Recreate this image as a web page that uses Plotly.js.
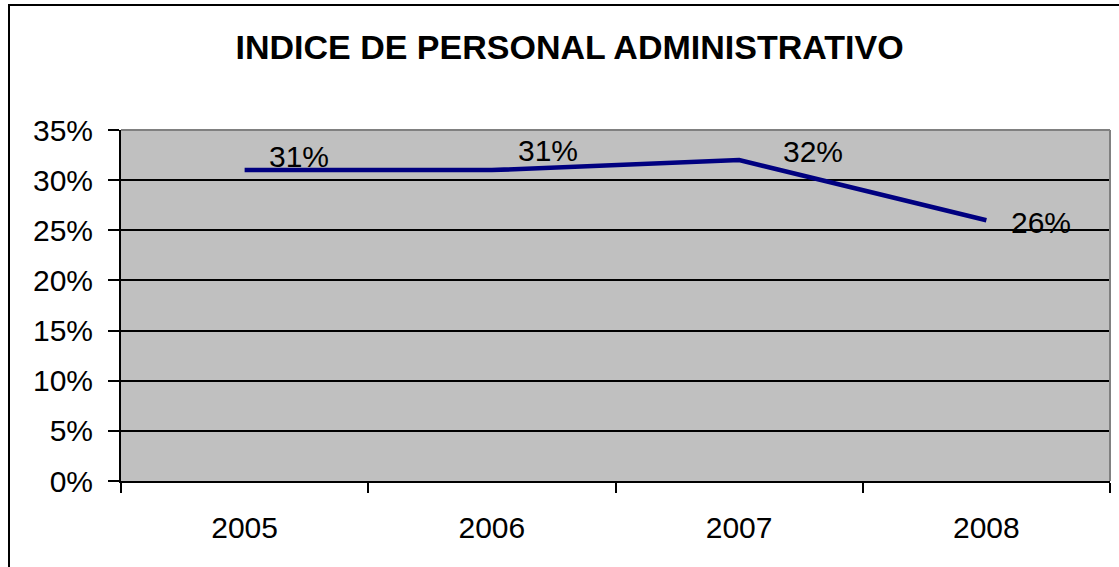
<!DOCTYPE html>
<html>
<head>
<meta charset="utf-8">
<script src="https://cdn.plot.ly/plotly-3.0.1.min.js"></script>
<style>
  html, body { margin: 0; padding: 0; width: 1119px; height: 567px; overflow: hidden; background: #fff; }
  #chart { position: absolute; left: 0; top: 0; width: 1119px; height: 567px; }
  #frame { position: absolute; left: 8px; top: 4px; width: 2000px; height: 2000px; border: 2px solid #000; pointer-events: none; }
</style>
</head>
<body>
<div id="chart"></div>
<div id="frame"></div>
<script>
// Data
const years = ['2005', '2006', '2007', '2008'];
const indice = [0.31, 0.31, 0.32, 0.26];
const titleText = 'INDICE DE PERSONAL ADMINISTRATIVO';

// Label offsets (pixels) – styling only
const labelDx = [22, 24, 42, 23];
const labelDy = [14, 20, 9, -2];

const FONT = 'Liberation Sans, Arial, sans-serif';

const trace = {
  type: 'scatter',
  mode: 'lines',
  x: years,
  y: indice,
  line: { color: '#000080', width: 4.5 },
  hoverinfo: 'skip'
};

const annotations = years.map((yr, i) => ({
  x: i,
  y: indice[i],
  xref: 'x',
  yref: 'y',
  text: Math.round(indice[i] * 100) + '%',
  showarrow: false,
  xanchor: 'left',
  yanchor: 'middle',
  xshift: labelDx[i],
  yshift: labelDy[i],
  font: { family: FONT, size: 30, color: '#000000' }
}));

const layout = {
  width: 1119,
  height: 567,
  margin: { l: 121, r: 9, t: 130, b: 86, pad: 0 },
  paper_bgcolor: 'rgba(0,0,0,0)',
  plot_bgcolor: '#C0C0C0',
  showlegend: false,
  title: {
    text: '<b>' + titleText + '</b>',
    font: { family: FONT, size: 34, color: '#000' },
    x: 0.509,
    xanchor: 'center',
    y: 1 - 47 / 567,
    yanchor: 'middle'
  },
  xaxis: {
    type: 'category',
    range: [-0.5, 3.5],
    tickson: 'boundaries',
    ticks: 'outside',
    ticklen: 10,
    tickwidth: 1.5,
    tickcolor: '#000',
    showline: true,
    linecolor: '#000',
    linewidth: 2,
    showgrid: false,
    zeroline: false,
    ticklabelstandoff: 19,
    tickfont: { family: FONT, size: 30, color: '#000' },
    fixedrange: true
  },
  yaxis: {
    range: [0, 0.35],
    dtick: 0.05,
    tick0: 0,
    tickformat: '.0%',
    ticks: 'outside',
    ticklen: 11,
    tickwidth: 1.5,
    tickcolor: '#000',
    showline: true,
    linecolor: '#000',
    linewidth: 2,
    showgrid: true,
    gridcolor: '#000',
    gridwidth: 1.5,
    zeroline: false,
    ticklabelstandoff: 9,
    tickfont: { family: FONT, size: 30, color: '#000' },
    fixedrange: true
  },
  shapes: [
    { type: 'line', xref: 'paper', yref: 'paper', x0: 0, x1: 1, y0: 1, y1: 1, line: { color: '#808080', width: 2 } },
    { type: 'line', xref: 'paper', yref: 'paper', x0: 1, x1: 1, y0: 0, y1: 1, line: { color: '#808080', width: 2 } }
  ],
  annotations: annotations
};

Plotly.newPlot('chart', [trace], layout, { displayModeBar: false });
</script>
</body>
</html>
